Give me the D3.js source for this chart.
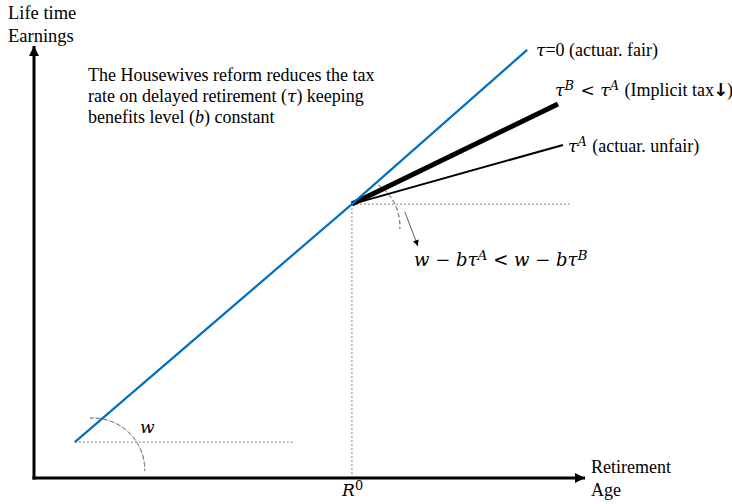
<!DOCTYPE html>
<html><head><meta charset="utf-8">
<script src="https://cdn.jsdelivr.net/npm/d3@7/dist/d3.min.js"></script>
<style>body{margin:0;background:#fff}svg{display:block}text{font-family:"Liberation Serif","Times New Roman",serif;fill:#000}</style>
</head><body>
<svg id="c" width="732" height="504"></svg>
<script>
// Data (abstract units: retirement age on x, lifetime earnings on y)
const axisMax = [100, 100];
const fairLine = [[7.4, 8.3], [57.7, 63.4], [89.5, 99.1]];     // tau = 0
const tauBLine = [[57.7, 63.4], [95.1, 86.6]];                 // tau^B (thick)
const tauALine = [[57.7, 63.4], [96.0, 77.1]];                 // tau^A (thin)
const kinkRef = [57.7, 63.4];                                  // R0 kink
const kinkGuideEnd = 97.6;
const wGuide = [[7.4, 8.3], [47.0, 8.3]];

const svg = d3.select("#c");
const x = d3.scaleLinear().domain([0, axisMax[0]]).range([34, 585]);
const y = d3.scaleLinear().domain([0, axisMax[1]]).range([478, 46]);
const line = d3.line().x(d => x(d[0])).y(d => y(d[1]));

const defs = svg.append("defs");
function marker(id, w, h) {
  defs.append("marker").attr("id", id).attr("viewBox", "0 0 10 10").attr("refX", 10).attr("refY", 5)
    .attr("markerUnits", "userSpaceOnUse").attr("markerWidth", w).attr("markerHeight", h).attr("orient", "auto")
    .append("path").attr("d", "M0,0 L10,5 L0,10 Z").attr("fill", "#000");
}
marker("ax", 13, 10);
marker("sm", 8, 6);

// guides
const dot = {stroke: "#808080", "stroke-width": 1, "stroke-dasharray": "2,2", fill: "none"};
function styl(sel, o) { for (const k in o) sel.attr(k, o[k]); return sel; }
styl(svg.append("path").attr("d", line([kinkRef, [kinkGuideEnd, kinkRef[1]]])), dot);
styl(svg.append("path").attr("d", line([kinkRef, [kinkRef[0], 0]])), dot);
styl(svg.append("path").attr("d", line(wGuide)), dot);

// dashed arcs
const arc1c = [x(wGuide[0][0]) + 18, y(0) - 8], r1 = 52;
svg.append("path").attr("d", d3.arc()({innerRadius: r1, outerRadius: r1, startAngle: -0.05, endAngle: Math.PI / 2 + 0.02}))
  .attr("transform", `translate(${arc1c[0]},${arc1c[1]})`)
  .attr("fill", "none").attr("stroke", "#808080").attr("stroke-width", 1).attr("stroke-dasharray", "4,3");
const arc2c = [x(kinkRef[0]) - 2, y(kinkRef[1]) + 22], r2 = 50;
svg.append("path").attr("d", d3.arc()({innerRadius: r2, outerRadius: r2, startAngle: 0.6, endAngle: 1.63}))
  .attr("transform", `translate(${arc2c[0]},${arc2c[1]})`)
  .attr("fill", "none").attr("stroke", "#808080").attr("stroke-width", 1).attr("stroke-dasharray", "4,3");
// small arrow to the inequality
svg.append("line").attr("x1", x(kinkRef[0]) + 53).attr("y1", y(kinkRef[1]) + 8)
  .attr("x2", x(kinkRef[0]) + 66).attr("y2", y(kinkRef[1]) + 42)
  .attr("stroke", "#333").attr("stroke-width", 0.8).attr("marker-end", "url(#sm)");

// axes
svg.append("line").attr("x1", x(0)).attr("y1", y(0) + 1.5).attr("x2", x(0)).attr("y2", y(axisMax[1]))
  .attr("stroke", "#000").attr("stroke-width", 3).attr("marker-end", "url(#ax)");
svg.append("line").attr("x1", x(0) - 1.5).attr("y1", y(0)).attr("x2", x(axisMax[0])).attr("y2", y(0))
  .attr("stroke", "#000").attr("stroke-width", 3).attr("marker-end", "url(#ax)");

// lines
svg.append("path").attr("d", line(tauALine)).attr("stroke", "#000").attr("stroke-width", 2).attr("fill", "none");
svg.append("path").attr("d", line(tauBLine)).attr("stroke", "#000").attr("stroke-width", 5).attr("fill", "none");
svg.append("path").attr("d", line(fairLine)).attr("stroke", "#0070C0").attr("stroke-width", 2.2).attr("fill", "none");

// texts
const MATH = "DejaVu Serif";
function txt(xp, yp, parts, size) {
  size = size || 18;
  const t = svg.append("text").attr("x", xp).attr("y", yp).attr("font-size", size);
  parts.forEach(p => {
    const s = t.append("tspan").text(p.t);
    if (p.m) s.attr("font-family", MATH).attr("font-size", p.ms || size * 0.95);
    if (p.i) s.attr("font-style", "italic");
    if (p.b) s.attr("font-weight", "bold");
    if (p.sup) s.attr("font-size", size * 0.72).attr("dy", -6);
    if (p.down) s.attr("dy", 6);
    if (p.f) s.attr("font-family", p.f);
    if (p.dx) s.attr("dx", p.dx);
  });
  return t;
}
txt(8, 19, [{t: "Life time"}], 18.5);
txt(8, 42, [{t: "Earnings"}], 18.5);
txt(88, 81, [{t: "The Housewives reform reduces the tax"}]);
txt(88, 102, [{t: "rate on delayed retirement ("}, {t: "τ", i: 1, m: 1}, {t: ") keeping"}]);
txt(88, 123, [{t: "benefits level ("}, {t: "b", i: 1}, {t: ") constant"}]);

txt(536, 56, [{t: "τ", i: 1, m: 1}, {t: "=0 (actuar. fair)"}]);
txt(555, 96, [{t: "τ", i: 1, m: 1}, {t: "B", i: 1, m: 1, sup: 1}, {t: "\u00a0<\u00a0", m: 1, down: 1, dx: 1}, {t: "τ", i: 1, m: 1}, {t: "A", i: 1, m: 1, sup: 1}, {t: " (Implicit tax", down: 1, dx: 1}, {t: "↓", b: 1, f: "DejaVu Sans", dx: -1}, {t: ")", dx: -1}]);
txt(568, 152, [{t: "τ", i: 1, m: 1}, {t: "A", i: 1, m: 1, sup: 1}, {t: " (actuar. unfair)", down: 1, dx: 1}]);

txt(414, 266, [{t: "w", i: 1, m: 1}, {t: " − ", m: 1}, {t: "bτ", i: 1, m: 1}, {t: "A", i: 1, m: 1, sup: 1}, {t: " < ", m: 1, down: 1}, {t: "w", i: 1, m: 1}, {t: " − ", m: 1}, {t: "bτ", i: 1, m: 1}, {t: "B", i: 1, m: 1, sup: 1}], 19);
txt(140, 433, [{t: "w", i: 1, m: 1}]);
txt(342, 496, [{t: "R", i: 1, m: 1}, {t: "0", m: 1, sup: 1}]);
txt(591, 473, [{t: "Retirement"}]);
txt(591, 496, [{t: "Age"}]);
</script>
</body></html>
